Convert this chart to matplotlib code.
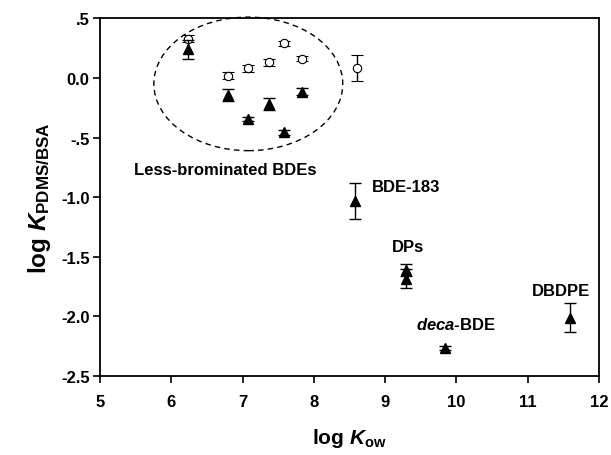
import matplotlib.pyplot as plt
from matplotlib.patches import Ellipse

plt.rcParams['font.family'] = ['Liberation Sans', 'DejaVu Sans']
plt.rcParams['font.weight'] = 'bold'
plt.rcParams['mathtext.fontset'] = 'custom'
plt.rcParams['mathtext.rm'] = 'Liberation Sans:bold'
plt.rcParams['mathtext.it'] = 'Liberation Sans:bold:italic'
plt.rcParams['mathtext.bf'] = 'Liberation Sans:bold'

# 空心圆 (less-brominated BDEs)
circ_x = [6.24, 6.79, 7.07, 7.37, 7.58, 7.84, 8.60]
circ_y = [0.33, 0.02, 0.08, 0.13, 0.29, 0.16, 0.08]
circ_err = [0.03, 0.03, 0.03, 0.03, 0.02, 0.02, 0.11]

# 实心三角
tri_x = [6.24, 6.79, 7.07, 7.37, 7.58, 7.84, 8.58, 9.29, 9.29, 9.84, 11.59]
tri_y = [0.24, -0.14, -0.345, -0.22, -0.455, -0.115, -1.03, -1.61, -1.685, -2.265, -2.01]
tri_err = [0.08, 0.05, 0.02, 0.05, 0.02, 0.03, 0.15, 0.05, 0.08, 0.02, 0.12]

labels = ['Less-brominated BDEs', 'BDE-183', 'DPs', r'$deca$-BDE', 'DBDPE']
label_x = [6.75, 8.81, 9.32, 9.99, 11.47]
label_y = [-0.77, -0.91, -1.41, -2.06, -1.78]
label_ha = ['center', 'left', 'center', 'center', 'center']

yticks = [-2.5, -2.0, -1.5, -1.0, -0.5, 0.0, 0.5]
ytick_labels = ['-2.5', '-2.0', '-1.5', '-1.0', '-.5', '0.0', '.5']

fig = plt.figure(figsize=(6.11, 4.56), dpi=100)
ax = fig.add_axes([0.1637, 0.1732, 0.8167, 0.7845])

ax.errorbar(circ_x, circ_y, yerr=circ_err, fmt='o', mfc='white', mec='black', mew=0.8,
            ms=6, ecolor='black', elinewidth=1, capsize=4, capthick=1, zorder=3)
ax.errorbar(tri_x, tri_y, yerr=tri_err, fmt='^', mfc='black', mec='black',
            ms=7.5, ecolor='black', elinewidth=1, capsize=4, capthick=1, zorder=4)

ell = Ellipse((7.08, -0.05), 2.65, 1.12, fill=False, ls=(0, (4, 3)), lw=1, ec='black', clip_on=False)
ax.add_patch(ell)

for t, x, y, ha in zip(labels, label_x, label_y, label_ha):
    ax.text(x, y, t, ha=ha, va='center', fontsize=12, fontweight='bold')

ax.set_xlim(5, 12)
ax.set_ylim(-2.5, 0.5)
ax.set_xticks(range(5, 13))
ax.set_yticks(yticks)
ax.set_yticklabels(ytick_labels)
ax.tick_params(direction='out', length=5, width=1.2, labelsize=12)
ax.tick_params(axis='x', pad=8)
ax.tick_params(axis='y', pad=2.5)
for lab in ax.get_xticklabels() + ax.get_yticklabels():
    lab.set_fontweight('bold')
for s in ax.spines.values():
    s.set_linewidth(1.3)

ax.set_xlabel(r'log $K_{\mathrm{ow}}$', fontsize=15, fontweight='bold', labelpad=12)
ax.set_ylabel(r'log $K_{\mathrm{PDMS/BSA}}$', fontsize=17.5, fontweight='bold', labelpad=6)

fig.savefig('out.png', dpi=100)
